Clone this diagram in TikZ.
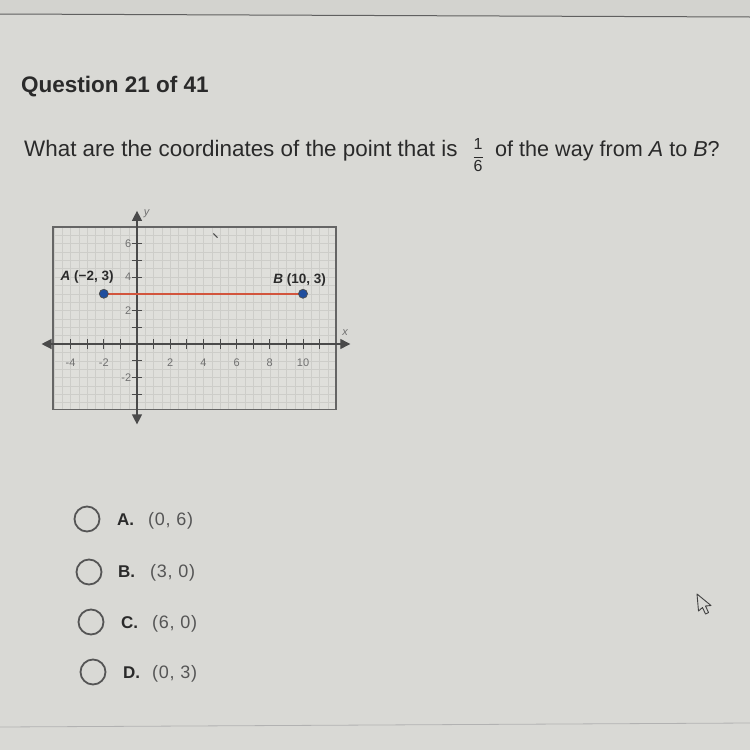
\documentclass[tikz,border=0pt]{standalone}
\usepackage{fontspec}
\setmainfont{Liberation Sans}
\usetikzlibrary{arrows.meta}
\definecolor{bg}{HTML}{D9D9D5}
\definecolor{bgtop}{HTML}{D3D3CF}
\definecolor{boxfill}{HTML}{DFDFDB}
\definecolor{gridc}{HTML}{CDCDC9}
\definecolor{axisc}{HTML}{4A4A4A}
\definecolor{txt}{HTML}{2A2A2A}
\definecolor{lbl}{HTML}{707070}
\definecolor{segred}{HTML}{D2553D}
\definecolor{dotblue}{HTML}{1F4E9E}
\definecolor{optgray}{HTML}{555555}
\tikzset{
  qtext/.style={anchor=base west, text=txt, inner sep=0pt},
  ticklbl/.style={text=lbl, font=\fontsize{11}{12}\selectfont, inner sep=1pt},
  ptlbl/.style={text=txt, font=\bfseries\fontsize{13.5}{15}\selectfont, inner sep=0pt},
  ptdot/.style={circle, fill=dotblue, draw=black!70, line width=0.7pt, minimum size=9pt, inner sep=0pt},
  radio/.style={circle, draw=optgray, line width=1.8pt, minimum size=25pt, inner sep=0pt},
  optletter/.style={anchor=base west, text=txt, font=\bfseries\fontsize{17}{20}\selectfont, inner sep=0pt},
  optval/.style={anchor=base west, text=optgray, font=\fontsize{18}{21}\selectfont\addfontfeature{LetterSpace=4}, inner sep=0pt},
  axisline/.style={draw=axisc, line width=1.2pt, {Triangle[length=10pt,width=10pt]}-{Triangle[length=10pt,width=10pt]}},
}
\begin{document}
\begin{tikzpicture}[x=1pt,y=-1pt]
\useasboundingbox (0,0) rectangle (750,750);
\fill[bg] (0,0) rectangle (750,750);
\fill[bgtop] (0,0) -- (750,0) -- (750,17) -- (0,14) -- cycle;
\draw[gray!75!black, line width=1pt] (0,14) -- (750,17);
\draw[gray!60, line width=0.8pt] (0,727) -- (750,723);

% title and question
\node[qtext, font=\bfseries\fontsize{22.5}{27}\selectfont] (title) at (21,92) {Question 21 of 41};
\node[qtext, font=\fontsize{22.4}{26}\selectfont] (q1) at (24,156) {What are the coordinates of the point that is};
\node[text=txt, font=\fontsize{16}{18}\selectfont, inner sep=0pt] (num) at (478,143.5) {1};
\node[text=txt, font=\fontsize{16}{18}\selectfont, inner sep=0pt] (den) at (478,166) {6};
\draw[txt, line width=0.7pt] (473.5,157) -- (482.5,157);
\node[qtext, font=\fontsize{21.6}{26}\selectfont] (q2) at (495,156) {of the way from \textit{A} to \textit{B}?};

% graph
\begin{scope}[shift={(137,344)}, x={(16.6pt,0pt)}, y={(0pt,16.75pt)}]
  \fill[boxfill] (-5.05,-3.9) rectangle (12,7);
  \draw[gridc, line width=0.35pt, step=0.5] (-5.05,-3.9) grid (12,7);
  \draw[axisc!85, line width=1.6pt] (-5.05,-3.9) rectangle (12,7);
  \coordinate (xl) at (-5.75,0);
  \coordinate (xr) at (12.85,0);
  \coordinate (yb) at (0,-4.8);
  \coordinate (yt) at (0,7.95);
  \draw[axisline] (xl) -- (xr);
  \draw[axisline] (yb) -- (yt);
  \foreach \i in {-4,...,-1,1,2,...,11} \draw[axisc, line width=1pt] (\i,-0.3) -- (\i,0.3);
  \foreach \j in {-3,...,-1,1,2,...,6} \draw[axisc, line width=1pt] (-0.3,\j) -- (0.3,\j);
  \foreach \i in {-4,-2,2,4,6,8,10} \node[ticklbl] (xt\i) at (\i,-1.1) {\i};
  \foreach \j in {6,4,2,-2} \node[ticklbl, anchor=east] (yt\j) at (-0.28,\j) {\j};
  \node[ticklbl] (xlab) at (12.55,0.7) {\textit{x}};
  \node[ticklbl] (ylab) at (0.6,7.75) {\textit{y}};
  \coordinate (cA) at (-2,3);
  \coordinate (cB) at (10,3);
  \draw[segred, line width=1.8pt] (cA) -- (cB);
  \node[ptdot] (A) at (cA) {};
  \node[ptdot] (B) at (cB) {};
  \node[ptlbl, anchor=east] (Alab) at (-1.4,4) {\textit{A} (−2, 3)};
  \node[ptlbl] (Blab) at (9.8,3.85) {\textit{B} (10, 3)};
  \draw[black!70, line width=1pt] (4.6,6.6) -- (4.85,6.35);
\end{scope}

% options
\node[radio] (rA) at (87,519) {};
\node[optletter] (lA) at (117,525) {A.};
\node[optval] (vA) at (148,525) {(0, 6)};
\node[radio] (rB) at (89,572) {};
\node[optletter] (lB) at (118,577) {B.};
\node[optval] (vB) at (150,577) {(3, 0)};
\node[radio] (rC) at (91,622) {};
\node[optletter] (lC) at (121,628) {C.};
\node[optval] (vC) at (152,628) {(6, 0)};
\node[radio] (rD) at (93,672) {};
\node[optletter] (lD) at (123,678) {D.};
\node[optval] (vD) at (152,678) {(0, 3)};

% mouse pointer
\draw[black!75, fill=bg, line width=0.9pt, line join=round]
  (697,594) -- (698.5,611) -- (702.5,607.5) -- (705.5,614) -- (708.5,612.5) -- (705.5,606) -- (711,605.5) -- cycle;
\end{tikzpicture}
\end{document}
